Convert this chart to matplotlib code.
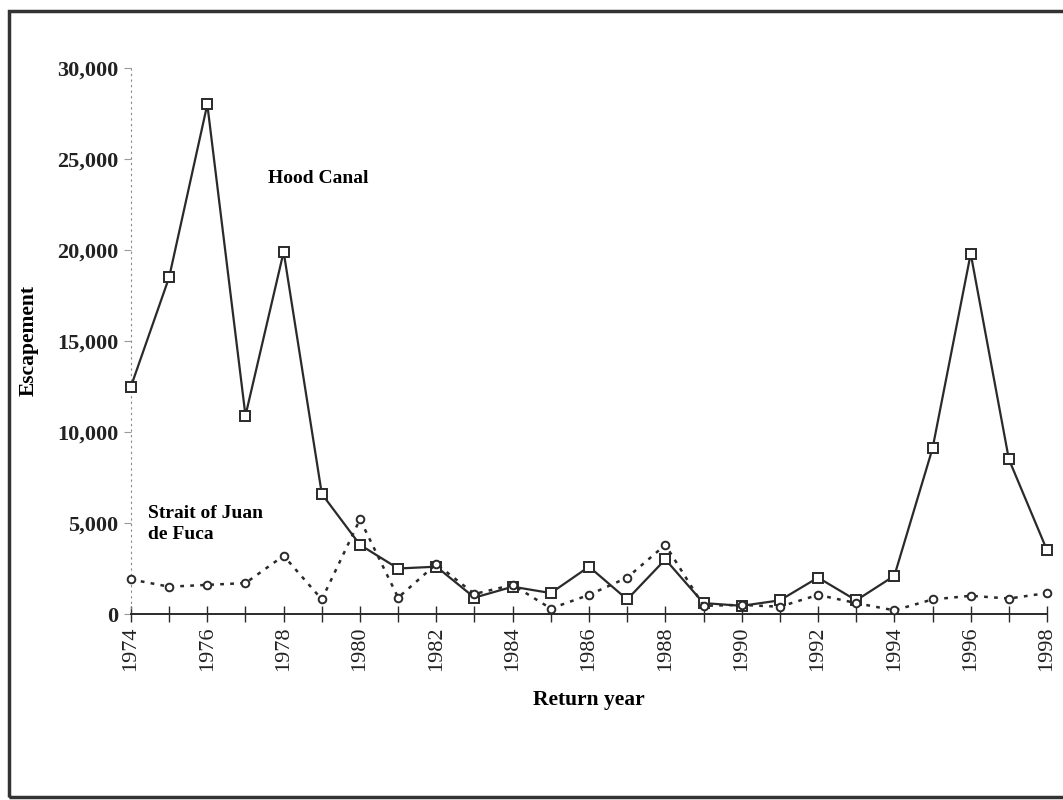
import matplotlib
matplotlib.use("Agg")
import matplotlib.pyplot as plt
from matplotlib.patches import Rectangle

# данные
years = list(range(1974, 1999))
hood_canal = [12500, 18500, 28000, 10900, 19900, 6600, 3800, 2500, 2600, 900,
              1500, 1150, 2600, 800, 3000, 600, 450, 750, 2000, 750,
              2100, 9100, 19800, 8500, 3500]
juan_de_fuca = [1900, 1500, 1600, 1700, 3200, 800, 5200, 900, 2750, 1100,
                1600, 300, 1050, 2000, 3800, 450, 500, 400, 1050, 600,
                200, 800, 1000, 850, 1150]
y_ticks = [0, 5000, 10000, 15000, 20000, 25000, 30000]
x_label_years = list(range(1974, 1999, 2))

plt.rcParams['font.family'] = ['Liberation Serif', 'DejaVu Serif']
ink = '#2a2a2a'

fig = plt.figure(figsize=(10.63, 8.0), dpi=100)
ax = fig.add_axes([0.1232, 0.2325, 0.9850 - 0.1232, 0.915 - 0.2325])

ax.plot(years, hood_canal, color=ink, lw=1.6, marker='s', ms=7,
        mfc='white', mec=ink, mew=1.4, clip_on=False, zorder=3)
ax.plot(years, juan_de_fuca, color=ink, lw=1.8, ls=(0, (1.5, 2.5)), marker='o', ms=5.5,
        mfc='white', mec=ink, mew=1.4, clip_on=False, zorder=3)

ax.set_xlim(1974, 1998)
ax.set_ylim(0, 30000)

ax.set_yticks(y_ticks)
ax.set_yticklabels([f"{v:,}" for v in y_ticks], fontsize=16, fontweight='bold', color='#222')
ax.set_xticks(years, minor=True)
ax.set_xticks(x_label_years)
ax.set_xticklabels([str(y) for y in x_label_years], rotation=90, fontsize=16, color='#222')
ax.tick_params(axis='x', which='both', direction='inout', length=12, width=1.0, color=ink, pad=3)
ax.tick_params(axis='y', direction='out', length=5, width=0.8, color='#999', pad=4)

for s in ['top', 'right']:
    ax.spines[s].set_visible(False)
ax.spines['left'].set_linestyle((0, (1, 4)))
ax.spines['left'].set_color('#888')
ax.spines['bottom'].set_color(ink)
ax.spines['bottom'].set_linewidth(1.4)

ax.set_ylabel('Escapement', fontsize=15.5, fontweight='bold')
ax.yaxis.set_label_coords(-0.101, 0.5)
ax.set_xlabel('Return year', fontsize=15.5, fontweight='bold', labelpad=14)

ax.text(1977.6, 23950, 'Hood Canal', fontsize=14, fontweight='bold', va='center', ha='left')
ax.text(1974.45, 4950, 'Strait of Juan\nde Fuca', fontsize=14, fontweight='bold',
        va='center', ha='left', linespacing=1.35)

# рамка вокруг рисунка
fig.patches.append(Rectangle((0.008, 0.004), 1.2, 0.982, transform=fig.transFigure,
                             fill=False, lw=2.5, ec='#333'))

fig.savefig('out.png', dpi=100)
